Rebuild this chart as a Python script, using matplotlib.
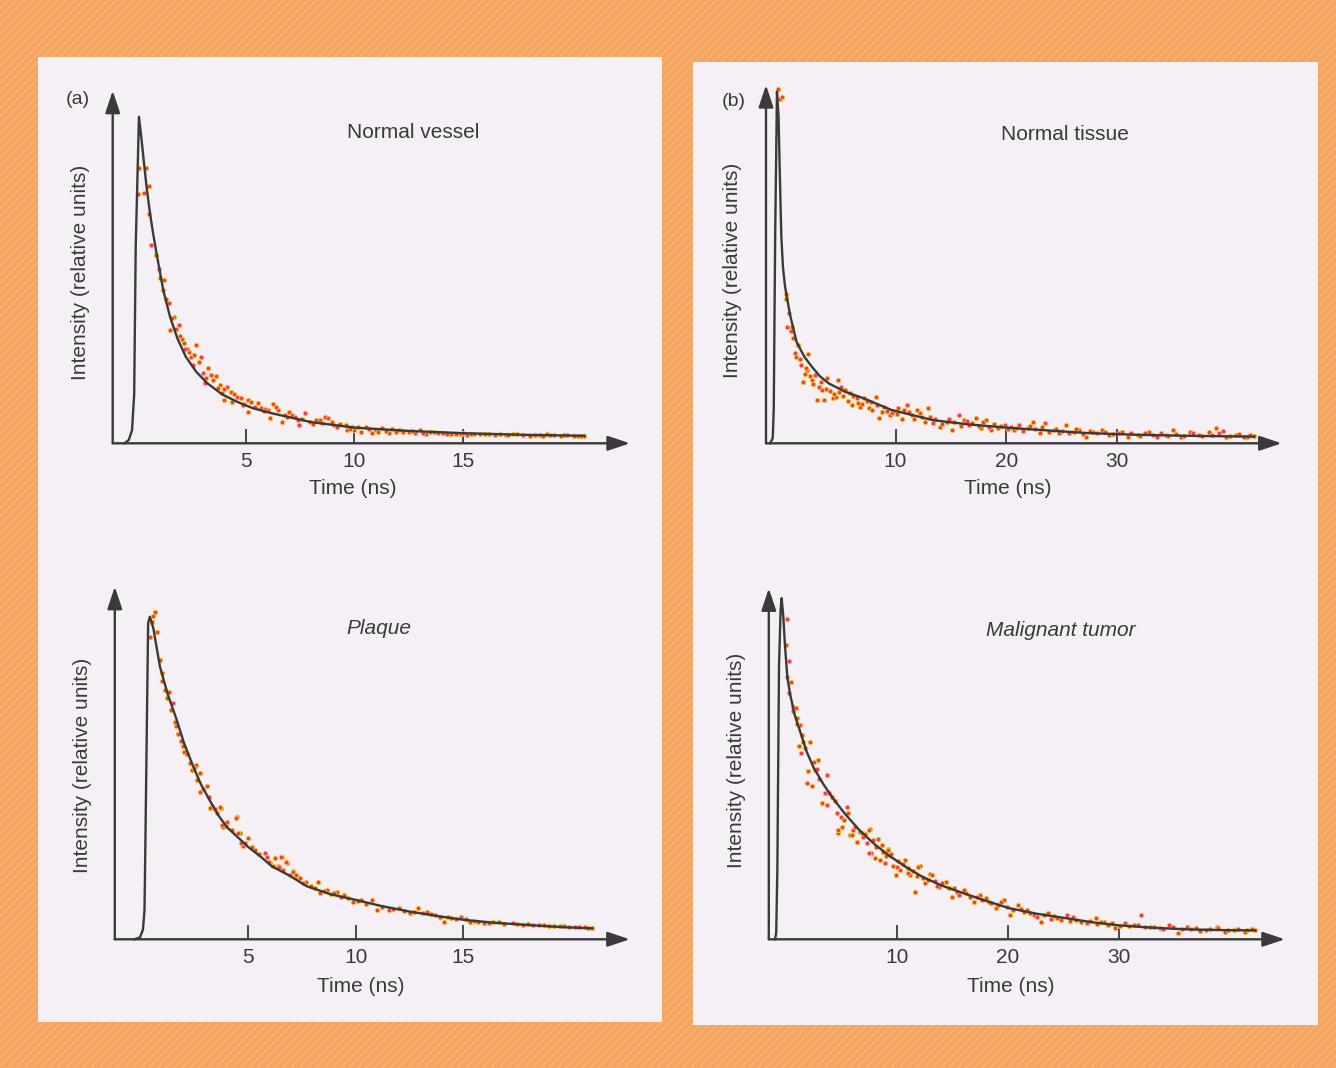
import matplotlib
matplotlib.use("Agg")
import matplotlib.pyplot as plt
from matplotlib.patches import Rectangle

# ---- data (time in ns, intensity relative to peak) ----

# (a) Normal vessel
vessel_curve_t = [-0.6, -0.4, -0.25, -0.15, -0.08, 0.07, 0.19, 0.3, 0.42, 0.58, 0.73, 0.88, 1.19, 1.5,
                  1.85, 2.23, 2.7, 3.2, 3.9, 4.6, 5.3, 6.19, 8.0, 10.0, 12.5, 15.0, 17.8, 20.6]
vessel_curve_i = [0.0, 0.01, 0.04, 0.15, 0.6, 1.0, 0.93, 0.86, 0.786, 0.704, 0.64, 0.582, 0.469, 0.388,
                  0.32, 0.265, 0.22, 0.185, 0.15, 0.127, 0.108, 0.092, 0.065, 0.048, 0.038, 0.031, 0.026, 0.023]
vessel_dot_t = [0.07, 0.38, 0.04, 0.30, 0.54, 0.53, 0.62, 0.84, 0.99, 1.04, 1.22, 1.16, 1.30, 1.45, 1.70,
                1.59, 1.51, 1.91, 2.07, 2.14, 2.38, 2.70, 2.54, 2.86, 3.02, 3.26, 3.10, 3.49, 3.81, 3.89,
                3.97, 4.12, 4.29, 4.37, 4.60, 4.76, 5.08, 5.08, 5.55, 5.71, 6.03, 6.27, 6.10, 6.50, 6.66,
                7.14, 7.38, 7.46, 7.70, 7.93, 8.25, 8.65, 8.80, 9.04, 9.20, 9.60, 9.68, 10.3, 10.54, 10.79,
                11.26, 11.58, 12.05, 12.53, 13.0, 13.48, 13.87, 14.43, 14.9, 15.5, 16.2, 16.97, 17.76, 18.55,
                18.87, 19.5, 20.1, 20.6, 10.0, 11.0, 11.9, 12.8, 13.3, 14.1, 14.7, 15.2, 15.8, 16.5, 17.3,
                18.1, 19.2, 19.8, 20.3, 2.3, 2.95, 3.6, 4.9, 5.9, 6.9, 8.5, 9.9,
                1.8, 1.95, 2.2, 2.45, 2.6, 3.15, 3.4, 3.7, 4.0, 4.45, 4.85, 5.25, 5.4, 5.85, 6.4, 6.8,
                7.0, 7.25, 7.6, 8.1, 8.4, 8.95, 9.35, 9.8, 10.15, 10.65, 11.1, 11.45, 11.75, 12.25, 12.65,
                13.15, 13.65, 14.25, 15.0, 15.35, 16.0, 16.7, 17.1, 17.5, 18.3, 18.7, 19.0, 19.65, 20.45]
vessel_dot_i = [0.842, 0.842, 0.765, 0.767, 0.788, 0.702, 0.607, 0.577, 0.533, 0.505, 0.50, 0.469, 0.442, 0.429, 0.386,
                0.384, 0.347, 0.362, 0.32, 0.306, 0.28, 0.30, 0.24, 0.25, 0.214, 0.23, 0.184, 0.194, 0.178, 0.153,
                0.133, 0.173, 0.158, 0.127, 0.143, 0.138, 0.133, 0.097, 0.122, 0.107, 0.102, 0.12, 0.077, 0.102, 0.066,
                0.087, 0.071, 0.056, 0.092, 0.066, 0.071, 0.081, 0.077, 0.056, 0.051, 0.056, 0.041, 0.036, 0.051, 0.031,
                0.046, 0.032, 0.041, 0.036, 0.041, 0.036, 0.031, 0.028, 0.028, 0.028, 0.028, 0.025, 0.025, 0.025,
                0.028, 0.023, 0.023, 0.023, 0.042, 0.040, 0.035, 0.033, 0.030, 0.033, 0.030, 0.026, 0.030, 0.026, 0.028,
                0.023, 0.026, 0.025, 0.021, 0.29, 0.265, 0.205, 0.12, 0.105, 0.08, 0.062, 0.049,
                0.35, 0.33, 0.29, 0.265, 0.27, 0.20, 0.21, 0.17, 0.165, 0.15, 0.118, 0.125, 0.11, 0.098, 0.11, 0.088,
                0.095, 0.082, 0.075, 0.06, 0.072, 0.065, 0.058, 0.045, 0.05, 0.043, 0.036, 0.039, 0.044, 0.034, 0.037,
                0.033, 0.034, 0.03, 0.031, 0.027, 0.03, 0.027, 0.024, 0.027, 0.026, 0.023, 0.025, 0.024, 0.022]

# (a) Plaque
plaque_curve_t = [-0.3, -0.04, 0.1, 0.17, 0.19, 0.34, 0.42, 0.58, 0.89, 1.25, 1.67, 2.0, 2.44, 2.8, 3.21, 3.6,
                  4.0, 4.98, 5.54, 6.1, 6.93, 7.7, 8.8, 10.0, 11.2, 12.5, 13.8, 15.06, 16.5, 18.1, 19.5, 20.98]
plaque_curve_i = [0.0, 0.006, 0.03, 0.09, 0.18, 0.98, 1.0, 0.965, 0.845, 0.76, 0.68, 0.61, 0.535, 0.48, 0.43, 0.385,
                  0.348, 0.287, 0.258, 0.226, 0.197, 0.165, 0.14, 0.122, 0.103, 0.086, 0.072, 0.060, 0.051, 0.044, 0.038, 0.034]
plaque_dot_t = [0.66, 0.55, 0.73, 0.42, 0.89, 0.97, 1.12, 1.32, 1.20, 1.51, 1.59, 1.74, 1.85, 2.02, 2.28, 2.56,
                2.36, 2.75, 2.60, 3.06, 2.75, 3.30, 3.73, 3.53, 3.84, 4.46, 4.61, 5.0, 4.77, 5.85, 6.24, 6.55,
                6.78, 6.39, 7.09, 7.32, 3.21, 3.70, 3.78, 4.02, 4.42, 4.50, 4.66, 5.30, 5.78, 6.02, 6.26, 6.50,
                6.42, 6.74, 7.06, 7.38, 7.70, 8.26, 8.34, 8.66, 9.14, 9.46, 9.86, 10.26, 10.74, 10.98, 11.54,
                12.02, 12.5, 12.9, 13.3, 13.7, 14.1, 14.42, 14.9, 15.3, 15.7, 16.18, 16.66, 17.3, 17.78, 18.26,
                18.74, 19.22, 19.7, 20.18, 20.66, 20.98,
                0.5, 1.0, 1.4, 1.65, 1.95, 2.15, 2.45, 2.9, 3.15, 3.45, 3.95, 4.25, 4.85, 5.15, 5.5, 5.95,
                6.15, 6.6, 6.95, 7.2, 7.55, 7.9, 8.1, 8.5, 8.85, 9.0, 9.3, 9.65, 10.1, 10.45, 11.2, 11.75,
                12.25, 12.7, 13.1, 13.5, 13.9, 14.3, 14.65, 15.1, 15.5, 15.95, 16.4, 16.9, 17.5, 18.0, 18.5,
                19.0, 19.5, 19.9, 20.4, 20.8]
plaque_dot_i = [1.014, 1.002, 0.953, 0.938, 0.866, 0.825, 0.773, 0.768, 0.747, 0.732, 0.675, 0.637, 0.616, 0.582, 0.546, 0.54,
                0.525, 0.515, 0.494, 0.476, 0.458, 0.412, 0.407, 0.391, 0.349, 0.378, 0.329, 0.313, 0.289, 0.256, 0.251, 0.256,
                0.237, 0.227, 0.213, 0.194, 0.406, 0.411, 0.355, 0.365, 0.375, 0.329, 0.298, 0.277, 0.267, 0.236, 0.251, 0.256,
                0.225, 0.241, 0.21, 0.189, 0.179, 0.179, 0.143, 0.153, 0.148, 0.137, 0.117, 0.122, 0.122, 0.091, 0.091,
                0.096, 0.081, 0.096, 0.086, 0.075, 0.055, 0.065, 0.07, 0.055, 0.055, 0.05, 0.055, 0.05, 0.044, 0.044,
                0.044, 0.041, 0.041, 0.039, 0.037, 0.034,
                0.985, 0.80, 0.71, 0.66, 0.60, 0.575, 0.53, 0.465, 0.44, 0.405, 0.35, 0.34, 0.30, 0.285, 0.265, 0.24,
                0.228, 0.215, 0.20, 0.20, 0.175, 0.165, 0.16, 0.15, 0.14, 0.145, 0.13, 0.128, 0.12, 0.11, 0.10, 0.095,
                0.089, 0.085, 0.08, 0.078, 0.07, 0.068, 0.064, 0.062, 0.058, 0.052, 0.054, 0.048, 0.047, 0.046, 0.043,
                0.042, 0.04, 0.038, 0.038, 0.036]

# (b) Normal tissue
tissue_curve_t = [-1.3, -1.07, -0.98, -0.85, -0.69, -0.55, -0.4, -0.3, -0.15, 0.04, 0.49, 1.09, 1.8, 2.45, 3.2,
                  4.0, 5.5, 7.12, 9.61, 13.35, 16.5, 20.2, 24.0, 27.36, 32.0, 37.0, 42.3]
tissue_curve_i = [0.0, 0.015, 0.1, 0.6, 1.0, 0.93, 0.72, 0.59, 0.50, 0.445, 0.365, 0.287, 0.245, 0.218, 0.19,
                  0.17, 0.146, 0.128, 0.095, 0.066, 0.054, 0.044, 0.036, 0.029, 0.024, 0.021, 0.019]
tissue_dot_t = [-0.62, -0.41, -0.26, 0.13, 0.13, 0.25, 0.64, 0.55, 1.24, 1.21, 0.89, 1.05, 2.14, 1.51, 1.83,
                1.98, 1.67, 2.45, 2.76, 3.07, 3.39, 3.85, 2.92, 3.54, 4.32, 4.63, 4.79, 5.09, 5.41, 5.88,
                6.03, 6.5, 6.81, 7.12, 7.59, 7.75, 8.21, 8.52, 8.99, 9.46, 9.93, 10.23, 11.02, 11.48, 11.95,
                12.42, 12.89, 13.35, 13.98, 14.6, 15.06, 15.68, 16.15, 16.62, 17.24, 17.71, 18.17, 18.64, 19.27,
                19.89, 20.67, 21.14, 21.91, 22.38, 23.0, 23.47, 24.25, 24.72, 25.34, 26.11, 26.58, 27.2, 27.83,
                28.6, 29.23, 30.16, 30.94, 31.88, 32.81, 33.59, 34.36, 34.99, 35.77, 36.55, 37.32, 38.26, 38.88,
                39.81, 40.74, 41.68, 42.3,
                0.35, 0.75, 1.4, 1.9, 2.3, 2.6, 3.25, 3.7, 4.1, 4.45, 4.9, 5.25, 5.7, 6.2, 6.65, 7.0, 7.4,
                7.9, 8.35, 8.75, 9.2, 9.7, 10.1, 10.6, 10.8, 11.25, 11.7, 12.2, 12.65, 13.1, 13.6, 14.2, 14.8,
                15.3, 15.9, 16.4, 16.9, 17.5, 17.9, 18.4, 18.9, 19.5, 20.1, 20.4, 20.9, 21.5, 22.1, 22.6, 23.2,
                23.8, 24.5, 25.0, 25.6, 26.3, 26.9, 27.5, 28.2, 28.9, 29.6, 30.4, 31.2, 32.0, 32.5, 33.2, 33.9,
                34.6, 35.3, 36.0, 36.8, 37.6, 38.5, 39.2, 39.5, 40.2, 41.0, 41.4, 42.0]
tissue_dot_i = [1.007, 0.978, 0.986, 0.425, 0.41, 0.332, 0.33, 0.318, 0.28, 0.28, 0.256, 0.245, 0.254, 0.223, 0.198,
                0.208, 0.175, 0.18, 0.194, 0.16, 0.152, 0.185, 0.123, 0.123, 0.128, 0.133, 0.18, 0.161, 0.152, 0.142,
                0.109, 0.128, 0.104, 0.128, 0.1, 0.118, 0.133, 0.071, 0.104, 0.08, 0.09, 0.1, 0.109, 0.08, 0.095,
                0.076, 0.1, 0.057, 0.047, 0.061, 0.038, 0.08, 0.066, 0.052, 0.071, 0.043, 0.066, 0.038, 0.043,
                0.052, 0.038, 0.052, 0.043, 0.061, 0.028, 0.057, 0.038, 0.028, 0.052, 0.033, 0.038, 0.019, 0.033,
                0.038, 0.024, 0.028, 0.019, 0.024, 0.033, 0.019, 0.024, 0.038, 0.019, 0.033, 0.024, 0.033, 0.043,
                0.019, 0.024, 0.019, 0.021,
                0.37, 0.30, 0.24, 0.215, 0.19, 0.17, 0.175, 0.155, 0.148, 0.14, 0.145, 0.135, 0.12, 0.135, 0.115, 0.112, 0.12,
                0.095, 0.11, 0.09, 0.093, 0.085, 0.083, 0.07, 0.095, 0.09, 0.068, 0.085, 0.06, 0.075, 0.068, 0.055, 0.07,
                0.06, 0.048, 0.062, 0.058, 0.05, 0.06, 0.045, 0.055, 0.048, 0.04, 0.047, 0.044, 0.035, 0.048, 0.04, 0.045,
                0.033, 0.042, 0.036, 0.03, 0.041, 0.026, 0.035, 0.028, 0.032, 0.026, 0.033, 0.029, 0.022, 0.028, 0.025, 0.03,
                0.021, 0.027, 0.022, 0.028, 0.02, 0.025, 0.029, 0.036, 0.022, 0.026, 0.018, 0.023]

# (b) Malignant tumor
tumor_curve_t = [-1.0, -0.9, -0.8, -0.65, -0.5, -0.41, -0.26, -0.11, 0.1, 0.34, 0.79, 1.25, 1.85, 2.45, 3.35,
                 4.25, 5.3, 6.66, 8.0, 9.3, 10.8, 12.3, 14.0, 15.73, 18.0, 20.16, 22.6, 25.22, 27.6, 29.97,
                 33.0, 36.3, 39.3, 42.3]
tumor_curve_i = [0.0, 0.02, 0.2, 0.8, 0.97, 1.0, 0.946, 0.86, 0.77, 0.72, 0.655, 0.61, 0.55, 0.505, 0.455,
                 0.412, 0.368, 0.318, 0.278, 0.245, 0.212, 0.183, 0.158, 0.138, 0.113, 0.091, 0.075, 0.062, 0.05, 0.041,
                 0.034, 0.029, 0.027, 0.026]
tumor_dot_t = [0.04, -0.02, 0.28, 0.10, 0.40, 0.28, 0.58, 0.88, 0.95, 1.25, 1.55, 2.15, 1.18, 1.31, 2.9,
               2.0, 2.6, 3.65, 1.85, 2.3, 3.5, 4.1, 4.4, 3.2, 3.65, 5.46, 4.62, 5.0, 6.06, 6.66,
               7.56, 4.7, 5.75, 6.36, 7.86, 8.31, 7.26, 7.63, 9.21, 9.37, 8.47, 9.67, 10.72, 10.27, 12.08,
               11.17, 12.98, 4.65, 5.91, 6.86, 7.5, 6.39, 7.5, 8.76, 9.23, 7.97, 8.92, 10.03, 11.93, 9.87,
               10.97, 11.62, 12.56, 13.2, 13.83, 14.46, 14.94, 15.41, 16.2, 16.99, 17.46, 18.26, 18.89, 19.68,
               20.16, 20.95, 21.74, 22.37, 23.0, 23.64, 24.43, 25.38, 26.17, 27.12, 27.91, 28.71, 29.66, 30.6,
               31.4, 32.03, 32.82, 33.77, 34.57, 35.36, 36.15, 36.94, 37.89, 38.84, 39.63, 40.42, 41.37, 42.32,
               0.6, 1.0, 1.45, 1.7, 2.5, 2.75, 3.0, 3.9, 4.9, 5.2, 5.6, 6.2, 6.9, 7.1, 8.1, 8.6, 9.0, 9.5,
               10.1, 10.5, 11.0, 11.4, 11.8, 12.3, 12.8, 13.4, 13.6, 14.1, 14.7, 15.1, 15.6, 16.0, 16.6, 17.2,
               17.7, 18.0, 18.5, 19.1, 19.4, 19.9, 20.5, 21.2, 21.5, 22.0, 22.6, 23.3, 23.9, 24.2, 24.8, 25.6,
               25.9, 26.6, 27.4, 28.0, 28.4, 29.0, 29.4, 30.1, 30.9, 31.7, 32.4, 33.2, 34.0, 34.9, 35.7, 36.5,
               37.3, 38.2, 39.0, 39.9, 40.8, 41.6, 42.0]
tumor_dot_i = [0.938, 0.863, 0.817, 0.77, 0.755, 0.721, 0.682, 0.677, 0.648, 0.628, 0.579, 0.578, 0.568, 0.545, 0.526,
               0.494, 0.496, 0.482, 0.457, 0.448, 0.428, 0.418, 0.406, 0.401, 0.394, 0.389, 0.369, 0.33, 0.32, 0.316,
               0.323, 0.313, 0.306, 0.286, 0.291, 0.293, 0.282, 0.252, 0.264, 0.247, 0.233, 0.215, 0.233, 0.203, 0.215,
               0.189, 0.191, 0.32, 0.306, 0.311, 0.32, 0.286, 0.252, 0.257, 0.262, 0.238, 0.223, 0.213, 0.213, 0.189,
               0.194, 0.14, 0.164, 0.189, 0.154, 0.169, 0.125, 0.14, 0.135, 0.11, 0.13, 0.11, 0.091, 0.115,
               0.071, 0.101, 0.086, 0.071, 0.052, 0.076, 0.062, 0.071, 0.057, 0.047, 0.062, 0.052, 0.032, 0.047,
               0.042, 0.071, 0.037, 0.032, 0.042, 0.018, 0.037, 0.032, 0.027, 0.037, 0.022, 0.027, 0.022, 0.027,
               0.67, 0.63, 0.60, 0.56, 0.52, 0.50, 0.47, 0.43, 0.36, 0.35, 0.37, 0.33, 0.30, 0.31, 0.27, 0.275, 0.245, 0.25,
               0.23, 0.22, 0.21, 0.20, 0.185, 0.18, 0.175, 0.17, 0.155, 0.165, 0.15, 0.15, 0.13, 0.145, 0.125, 0.125,
               0.115, 0.12, 0.105, 0.10, 0.108, 0.095, 0.085, 0.09, 0.08, 0.078, 0.065, 0.072, 0.06, 0.068, 0.058, 0.055,
               0.065, 0.05, 0.055, 0.045, 0.05, 0.042, 0.048, 0.04, 0.038, 0.043, 0.035, 0.036, 0.03, 0.035, 0.03, 0.03,
               0.025, 0.03, 0.032, 0.028, 0.03, 0.026, 0.03]

ticks_a = [5, 10, 15]
ticks_b = [10, 20, 30]

# ---- styling ----
W, H = 1336, 1068
ORANGE = "#F4A660"
PAPER = "#F5EFF6"
INK = "#3a3a3a"
DOT = "#EE3E48"
HALO = "#F8CC3A"

plt.rcParams["font.family"] = ["Liberation Sans", "DejaVu Sans"]
plt.rcParams["hatch.linewidth"] = 0.8

fig = plt.figure(figsize=(W / 100, H / 100), dpi=100)
fig.patch.set_facecolor(ORANGE)
fig.patches.append(Rectangle((0, 0), 1, 1, transform=fig.transFigure, facecolor=ORANGE,
                             edgecolor="#F8B77A", hatch="////", lw=0, zorder=-3))


def px_rect(left, top, right, bottom):
    return [left / W, 1 - bottom / H, (right - left) / W, (bottom - top) / H]


def label(x, y, s, size=15, **kw):
    fig.text(x / W, 1 - y / H, s, ha="center", va="center", color=INK, fontsize=size, **kw)


# white panels
for l, t, r, b in [(38, 57, 662, 1022), (693, 62, 1318, 1025)]:
    x0, y0, w, h = px_rect(l, t, r, b)
    fig.patches.append(Rectangle((x0, y0), w, h, transform=fig.transFigure,
                                 facecolor=PAPER, edgecolor="none", zorder=-2))


def decay_plot(rect, xlim, ylim, ticks, curve_t, curve_i, dot_t, dot_i):
    ax = fig.add_axes(px_rect(*rect))
    ax.set_xlim(xlim)
    ax.set_ylim(ylim)
    ax.patch.set_alpha(0)
    for s in ax.spines.values():
        s.set_visible(False)
    ax.scatter(dot_t, dot_i, s=11, c=DOT, edgecolors=HALO, linewidths=0.6, zorder=2, clip_on=False)
    ax.plot(curve_t, curve_i, color=INK, lw=1.7, zorder=3, solid_joinstyle="round", clip_on=False)
    arrow = dict(arrowstyle="-|>,head_length=0.9,head_width=0.3", color=INK, lw=1.7,
                 shrinkA=0, shrinkB=0, mutation_scale=15)
    ax.annotate("", xy=(1, 0), xytext=(0, 0), xycoords="axes fraction", arrowprops=arrow)
    ax.annotate("", xy=(0, 1), xytext=(0, 0), xycoords="axes fraction", arrowprops=arrow)
    ax.set_xticks(ticks)
    ax.set_xticklabels([str(v) for v in ticks])
    ax.set_yticks([])
    ax.tick_params(axis="x", direction="in", length=10, width=1.3, color=INK,
                   labelsize=15, labelcolor=INK, pad=6)
    return ax


decay_plot((112.7, 90.7, 630, 443.3), (-1.14, 22.7), (0, 1.08), ticks_a,
           vessel_curve_t, vessel_curve_i, vessel_dot_t, vessel_dot_i)
decay_plot((114.8, 586.7, 629.8, 939.3), (-1.21, 22.74), (0, 1.093), ticks_a,
           plaque_curve_t, plaque_curve_i, plaque_dot_t, plaque_dot_i)
decay_plot((766, 85, 1281.7, 443.3), (-1.68, 44.82), (0, 1.019), ticks_b,
           tissue_curve_t, tissue_curve_i, tissue_dot_t, tissue_dot_i)
decay_plot((768.8, 588.3, 1284.9, 939.3), (-1.57, 45.0), (0, 1.029), ticks_b,
           tumor_curve_t, tumor_curve_i, tumor_dot_t, tumor_dot_i)

label(78, 100, "(a)", size=14)
label(734, 101, "(b)", size=14)
label(413, 133, "Normal vessel")
label(1065, 134, "Normal tissue")
label(379, 629, "Plaque", style="italic")
label(1061, 631, "Malignant tumor", style="italic")
label(80, 272, "Intensity (relative units)", rotation=90)
label(733, 270, "Intensity (relative units)", rotation=90)
label(83, 765, "Intensity (relative units)", rotation=90)
label(736, 760, "Intensity (relative units)", rotation=90)
label(353, 488, "Time (ns)")
label(1008, 489, "Time (ns)")
label(361, 986, "Time (ns)")
label(1011, 987, "Time (ns)")

fig.savefig("out.png", dpi=100, facecolor=ORANGE)
